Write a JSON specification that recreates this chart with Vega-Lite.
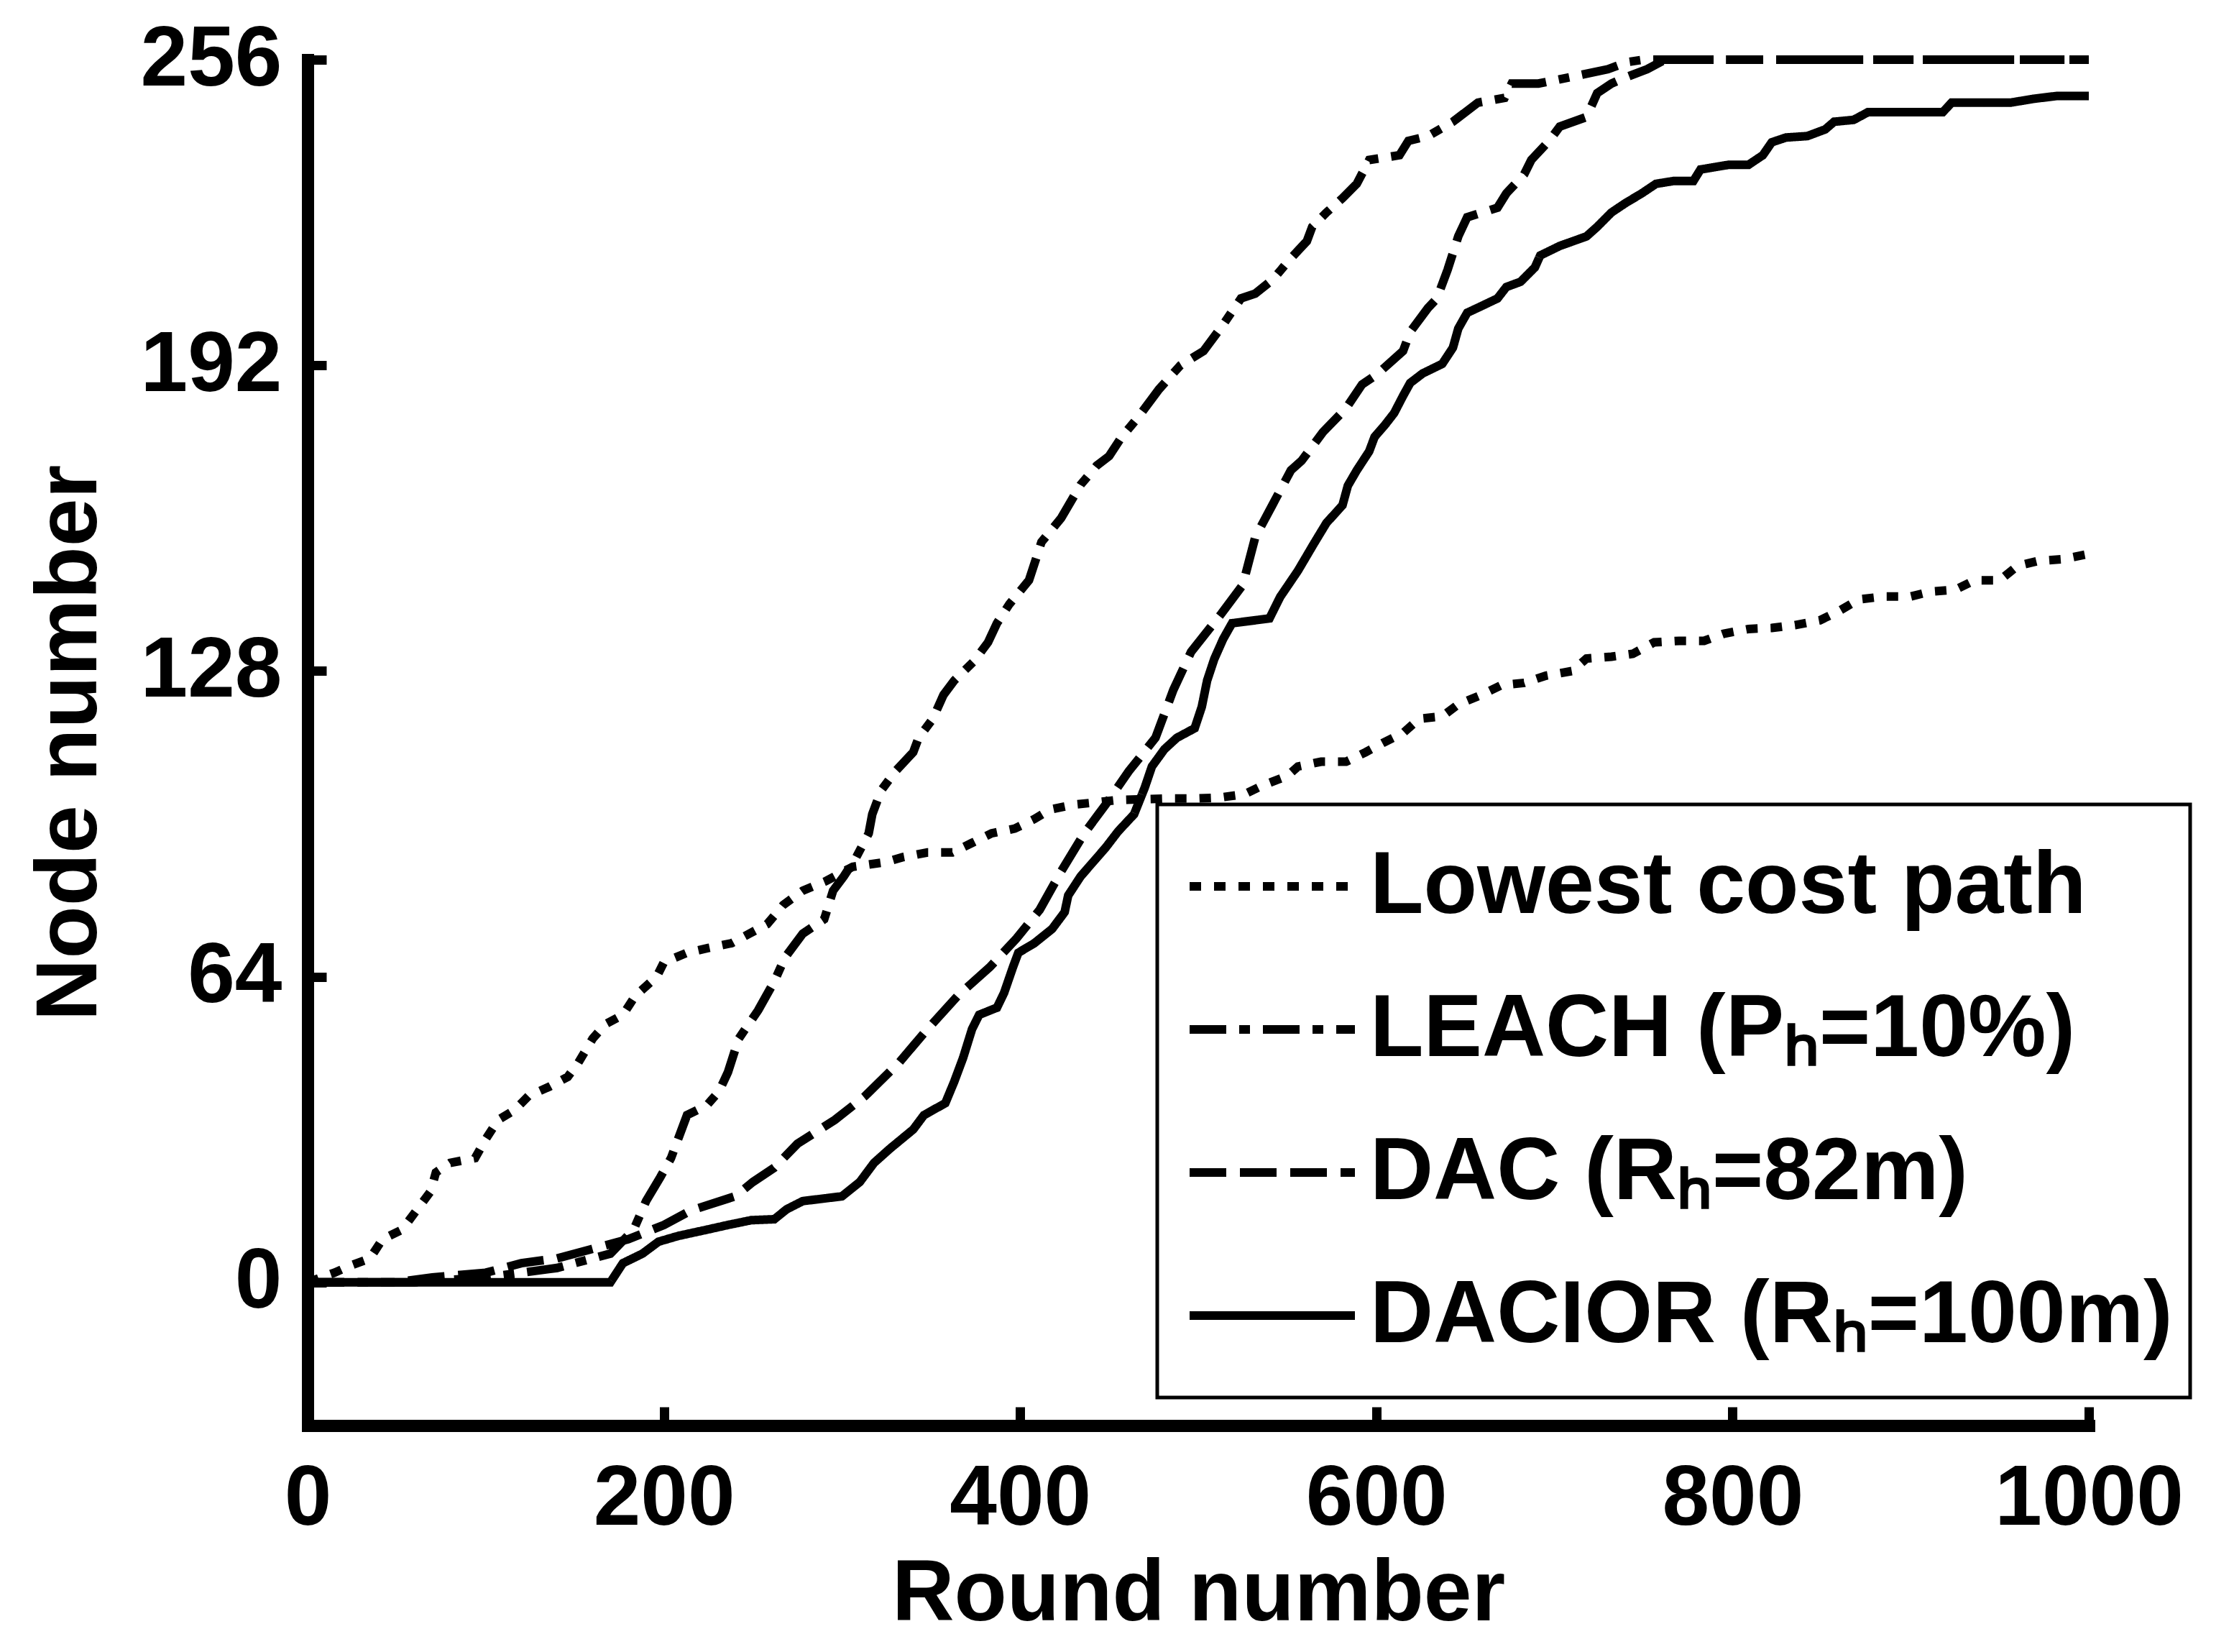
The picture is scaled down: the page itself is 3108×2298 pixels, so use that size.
{
  "$schema": "https://vega.github.io/schema/vega-lite/v6.json",
  "width": 2478,
  "height": 1900,
  "autosize": {"type": "none"},
  "padding": {"left": 428, "top": 83, "right": 202, "bottom": 315},
  "background": "white",
  "config": {
    "view": {"stroke": null},
    "axis": {
      "grid": false,
      "domainColor": "black",
      "domainWidth": 17,
      "domainCap": "square",
      "tickColor": "black",
      "tickWidth": 13,
      "tickSize": -26,
      "labelFont": "Liberation Sans",
      "labelFontSize": 118,
      "labelFontWeight": "bold",
      "labelColor": "black",
      "labelOverlap": false,
      "labelLimit": 2000,
      "titleFont": "Liberation Sans",
      "titleFontSize": 120,
      "titleFontWeight": "bold",
      "titleColor": "black"
    }
  },
  "data": {
    "values": [
      {"series":"LCP","round":0,"nodes":0},{"series":"LCP","round":15,"nodes":2},{"series":"LCP","round":24,"nodes":3.5},{"series":"LCP","round":35,"nodes":5},{"series":"LCP","round":42,"nodes":9},{"series":"LCP","round":53,"nodes":11},{"series":"LCP","round":61,"nodes":15},{"series":"LCP","round":69,"nodes":19},{"series":"LCP","round":72,"nodes":23},{"series":"LCP","round":80,"nodes":25},{"series":"LCP","round":94,"nodes":26},{"series":"LCP","round":100,"nodes":30},{"series":"LCP","round":107,"nodes":34},{"series":"LCP","round":116,"nodes":36},{"series":"LCP","round":124,"nodes":39},{"series":"LCP","round":136,"nodes":41},{"series":"LCP","round":146,"nodes":43},{"series":"LCP","round":152,"nodes":46},{"series":"LCP","round":160,"nodes":51},{"series":"LCP","round":167,"nodes":54},{"series":"LCP","round":177,"nodes":56},{"series":"LCP","round":184,"nodes":60},{"series":"LCP","round":196,"nodes":64},{"series":"LCP","round":200,"nodes":67},{"series":"LCP","round":213,"nodes":69},{"series":"LCP","round":225,"nodes":70},{"series":"LCP","round":238,"nodes":71},{"series":"LCP","round":248,"nodes":73},{"series":"LCP","round":258,"nodes":75},{"series":"LCP","round":267,"nodes":79},{"series":"LCP","round":278,"nodes":82},{"series":"LCP","round":291,"nodes":84},{"series":"LCP","round":306,"nodes":87},{"series":"LCP","round":325,"nodes":88},{"series":"LCP","round":334,"nodes":89},{"series":"LCP","round":348,"nodes":90},{"series":"LCP","round":362,"nodes":90},{"series":"LCP","round":373,"nodes":92},{"series":"LCP","round":384,"nodes":94},{"series":"LCP","round":397,"nodes":95},{"series":"LCP","round":408,"nodes":97},{"series":"LCP","round":417,"nodes":99},{"series":"LCP","round":430,"nodes":100},{"series":"LCP","round":443,"nodes":100.5},{"series":"LCP","round":455,"nodes":101},{"series":"LCP","round":484,"nodes":101.3},{"series":"LCP","round":499,"nodes":101.3},{"series":"LCP","round":512,"nodes":101.5},{"series":"LCP","round":526,"nodes":102.2},{"series":"LCP","round":536,"nodes":104},{"series":"LCP","round":550,"nodes":106},{"series":"LCP","round":556,"nodes":108},{"series":"LCP","round":569,"nodes":109},{"series":"LCP","round":583,"nodes":109},{"series":"LCP","round":594,"nodes":111},{"series":"LCP","round":604,"nodes":113},{"series":"LCP","round":615,"nodes":115},{"series":"LCP","round":624,"nodes":118},{"series":"LCP","round":637,"nodes":118.5},{"series":"LCP","round":646,"nodes":121},{"series":"LCP","round":659,"nodes":123},{"series":"LCP","round":670,"nodes":125},{"series":"LCP","round":683,"nodes":125.5},{"series":"LCP","round":695,"nodes":127},{"series":"LCP","round":710,"nodes":128},{"series":"LCP","round":718,"nodes":130.6},{"series":"LCP","round":732,"nodes":131},{"series":"LCP","round":744,"nodes":131.6},{"series":"LCP","round":756,"nodes":134},{"series":"LCP","round":770,"nodes":134.3},{"series":"LCP","round":784,"nodes":134.3},{"series":"LCP","round":795,"nodes":135.8},{"series":"LCP","round":809,"nodes":136.8},{"series":"LCP","round":822,"nodes":137},{"series":"LCP","round":835,"nodes":137.6},{"series":"LCP","round":849,"nodes":138.6},{"series":"LCP","round":860,"nodes":140.6},{"series":"LCP","round":871,"nodes":143},{"series":"LCP","round":885,"nodes":143.6},{"series":"LCP","round":900,"nodes":143.6},{"series":"LCP","round":911,"nodes":144.6},{"series":"LCP","round":925,"nodes":145},{"series":"LCP","round":936,"nodes":147},{"series":"LCP","round":950,"nodes":147},{"series":"LCP","round":960,"nodes":150},{"series":"LCP","round":971,"nodes":151},{"series":"LCP","round":985,"nodes":151.4},{"series":"LCP","round":1000,"nodes":152.5},

      {"series":"LEACH","round":0,"nodes":0},{"series":"LEACH","round":60,"nodes":0},{"series":"LEACH","round":100,"nodes":1},{"series":"LEACH","round":140,"nodes":3},{"series":"LEACH","round":170,"nodes":6},{"series":"LEACH","round":183,"nodes":11},{"series":"LEACH","round":190,"nodes":17},{"series":"LEACH","round":198,"nodes":22},{"series":"LEACH","round":204,"nodes":26},{"series":"LEACH","round":208,"nodes":30},{"series":"LEACH","round":213,"nodes":35},{"series":"LEACH","round":224,"nodes":37},{"series":"LEACH","round":231,"nodes":40},{"series":"LEACH","round":236,"nodes":44},{"series":"LEACH","round":242,"nodes":51},{"series":"LEACH","round":253,"nodes":57},{"series":"LEACH","round":262,"nodes":63},{"series":"LEACH","round":268,"nodes":68},{"series":"LEACH","round":278,"nodes":73},{"series":"LEACH","round":290,"nodes":76},{"series":"LEACH","round":295,"nodes":82},{"series":"LEACH","round":301,"nodes":85},{"series":"LEACH","round":308,"nodes":89},{"series":"LEACH","round":315,"nodes":94},{"series":"LEACH","round":317,"nodes":98},{"series":"LEACH","round":322,"nodes":103},{"series":"LEACH","round":330,"nodes":107},{"series":"LEACH","round":340,"nodes":111},{"series":"LEACH","round":343,"nodes":114},{"series":"LEACH","round":351,"nodes":118},{"series":"LEACH","round":357,"nodes":123},{"series":"LEACH","round":363,"nodes":126},{"series":"LEACH","round":374,"nodes":130},{"series":"LEACH","round":382,"nodes":134},{"series":"LEACH","round":387,"nodes":138},{"series":"LEACH","round":394,"nodes":142},{"series":"LEACH","round":405,"nodes":147},{"series":"LEACH","round":412,"nodes":155},{"series":"LEACH","round":423,"nodes":160},{"series":"LEACH","round":434,"nodes":167},{"series":"LEACH","round":443,"nodes":171},{"series":"LEACH","round":450,"nodes":173},{"series":"LEACH","round":457,"nodes":177},{"series":"LEACH","round":466,"nodes":181},{"series":"LEACH","round":478,"nodes":187},{"series":"LEACH","round":490,"nodes":192},{"series":"LEACH","round":503,"nodes":195},{"series":"LEACH","round":513,"nodes":200},{"series":"LEACH","round":524,"nodes":206},{"series":"LEACH","round":532,"nodes":207},{"series":"LEACH","round":542,"nodes":210},{"series":"LEACH","round":551,"nodes":214},{"series":"LEACH","round":561,"nodes":218},{"series":"LEACH","round":564,"nodes":221},{"series":"LEACH","round":572,"nodes":224},{"series":"LEACH","round":581,"nodes":227},{"series":"LEACH","round":589,"nodes":230},{"series":"LEACH","round":596,"nodes":235},{"series":"LEACH","round":613,"nodes":236},{"series":"LEACH","round":618,"nodes":239},{"series":"LEACH","round":629,"nodes":240},{"series":"LEACH","round":643,"nodes":243},{"series":"LEACH","round":657,"nodes":247},{"series":"LEACH","round":672,"nodes":248},{"series":"LEACH","round":676,"nodes":251},{"series":"LEACH","round":691,"nodes":251},{"series":"LEACH","round":711,"nodes":252.5},{"series":"LEACH","round":730,"nodes":254},{"series":"LEACH","round":741,"nodes":255.5},{"series":"LEACH","round":750,"nodes":256},{"series":"LEACH","round":1000,"nodes":256},

      {"series":"DAC","round":0,"nodes":0},{"series":"DAC","round":50,"nodes":0},{"series":"DAC","round":70,"nodes":1},{"series":"DAC","round":100,"nodes":2},{"series":"DAC","round":120,"nodes":4},{"series":"DAC","round":140,"nodes":5},{"series":"DAC","round":160,"nodes":7},{"series":"DAC","round":180,"nodes":9},{"series":"DAC","round":200,"nodes":12},{"series":"DAC","round":215,"nodes":15},{"series":"DAC","round":240,"nodes":18},{"series":"DAC","round":250,"nodes":21},{"series":"DAC","round":262,"nodes":24},{"series":"DAC","round":275,"nodes":29},{"series":"DAC","round":296,"nodes":34},{"series":"DAC","round":313,"nodes":39},{"series":"DAC","round":332,"nodes":46},{"series":"DAC","round":348,"nodes":53},{"series":"DAC","round":365,"nodes":60},{"series":"DAC","round":383,"nodes":66},{"series":"DAC","round":398,"nodes":72},{"series":"DAC","round":411,"nodes":78},{"series":"DAC","round":423,"nodes":86},{"series":"DAC","round":436,"nodes":94},{"series":"DAC","round":448,"nodes":100},{"series":"DAC","round":461,"nodes":107},{"series":"DAC","round":476,"nodes":114},{"series":"DAC","round":486,"nodes":124},{"series":"DAC","round":496,"nodes":132},{"series":"DAC","round":513,"nodes":140},{"series":"DAC","round":525,"nodes":146},{"series":"DAC","round":532,"nodes":156},{"series":"DAC","round":542,"nodes":163},{"series":"DAC","round":552,"nodes":170},{"series":"DAC","round":558,"nodes":172},{"series":"DAC","round":570,"nodes":178},{"series":"DAC","round":583,"nodes":183},{"series":"DAC","round":592,"nodes":188},{"series":"DAC","round":600,"nodes":190},{"series":"DAC","round":615,"nodes":195},{"series":"DAC","round":619,"nodes":199},{"series":"DAC","round":629,"nodes":204},{"series":"DAC","round":634,"nodes":206},{"series":"DAC","round":640,"nodes":212},{"series":"DAC","round":646,"nodes":219},{"series":"DAC","round":651,"nodes":223},{"series":"DAC","round":668,"nodes":225},{"series":"DAC","round":673,"nodes":228},{"series":"DAC","round":683,"nodes":232},{"series":"DAC","round":687,"nodes":235},{"series":"DAC","round":697,"nodes":239},{"series":"DAC","round":703,"nodes":242},{"series":"DAC","round":718,"nodes":244},{"series":"DAC","round":724,"nodes":249},{"series":"DAC","round":732,"nodes":251},{"series":"DAC","round":738,"nodes":252},{"series":"DAC","round":752,"nodes":254},{"series":"DAC","round":762,"nodes":256},{"series":"DAC","round":1000,"nodes":256},

      {"series":"DACIOR","round":0,"nodes":0},{"series":"DACIOR","round":170,"nodes":0},{"series":"DACIOR","round":177,"nodes":4},{"series":"DACIOR","round":188,"nodes":6},{"series":"DACIOR","round":197,"nodes":8.5},{"series":"DACIOR","round":208,"nodes":9.7},{"series":"DACIOR","round":224,"nodes":11},{"series":"DACIOR","round":236,"nodes":12},{"series":"DACIOR","round":249,"nodes":13},{"series":"DACIOR","round":262,"nodes":13.2},{"series":"DACIOR","round":269,"nodes":15.3},{"series":"DACIOR","round":278,"nodes":17},{"series":"DACIOR","round":300,"nodes":18},{"series":"DACIOR","round":310,"nodes":21},{"series":"DACIOR","round":318,"nodes":25},{"series":"DACIOR","round":327,"nodes":28},{"series":"DACIOR","round":340,"nodes":32},{"series":"DACIOR","round":346,"nodes":35},{"series":"DACIOR","round":358,"nodes":37.5},{"series":"DACIOR","round":363,"nodes":42},{"series":"DACIOR","round":368,"nodes":47},{"series":"DACIOR","round":373,"nodes":53},{"series":"DACIOR","round":377,"nodes":56},{"series":"DACIOR","round":387,"nodes":57.5},{"series":"DACIOR","round":391,"nodes":60.6},{"series":"DACIOR","round":396,"nodes":66},{"series":"DACIOR","round":399,"nodes":69},{"series":"DACIOR","round":408,"nodes":71},{"series":"DACIOR","round":418,"nodes":74},{"series":"DACIOR","round":425,"nodes":77.5},{"series":"DACIOR","round":427,"nodes":81},{"series":"DACIOR","round":434,"nodes":85},{"series":"DACIOR","round":441,"nodes":88},{"series":"DACIOR","round":448,"nodes":91},{"series":"DACIOR","round":455,"nodes":94.4},{"series":"DACIOR","round":464,"nodes":98},{"series":"DACIOR","round":470,"nodes":103.6},{"series":"DACIOR","round":474,"nodes":108},{"series":"DACIOR","round":481,"nodes":111.6},{"series":"DACIOR","round":488,"nodes":114},{"series":"DACIOR","round":498,"nodes":116},{"series":"DACIOR","round":502,"nodes":120.5},{"series":"DACIOR","round":505,"nodes":126},{"series":"DACIOR","round":509,"nodes":130.5},{"series":"DACIOR","round":514,"nodes":134.7},{"series":"DACIOR","round":519,"nodes":138},{"series":"DACIOR","round":540,"nodes":139},{"series":"DACIOR","round":546,"nodes":143.5},{"series":"DACIOR","round":556,"nodes":149},{"series":"DACIOR","round":565,"nodes":154.7},{"series":"DACIOR","round":572,"nodes":159},{"series":"DACIOR","round":581,"nodes":162.7},{"series":"DACIOR","round":584,"nodes":166.8},{"series":"DACIOR","round":589,"nodes":170},{"series":"DACIOR","round":596,"nodes":174},{"series":"DACIOR","round":599,"nodes":177},{"series":"DACIOR","round":605,"nodes":179.6},{"series":"DACIOR","round":610,"nodes":182},{"series":"DACIOR","round":615,"nodes":185.6},{"series":"DACIOR","round":619,"nodes":188.3},{"series":"DACIOR","round":626,"nodes":190.3},{"series":"DACIOR","round":637,"nodes":192.3},{"series":"DACIOR","round":643,"nodes":195.7},{"series":"DACIOR","round":646,"nodes":199.7},{"series":"DACIOR","round":651,"nodes":203},{"series":"DACIOR","round":659,"nodes":204.4},{"series":"DACIOR","round":668,"nodes":206},{"series":"DACIOR","round":673,"nodes":208.4},{"series":"DACIOR","round":681,"nodes":209.5},{"series":"DACIOR","round":689,"nodes":212.5},{"series":"DACIOR","round":692,"nodes":215},{"series":"DACIOR","round":703,"nodes":217},{"series":"DACIOR","round":718,"nodes":219},{"series":"DACIOR","round":724,"nodes":221},{"series":"DACIOR","round":732,"nodes":224},{"series":"DACIOR","round":740,"nodes":226},{"series":"DACIOR","round":749,"nodes":228},{"series":"DACIOR","round":757,"nodes":230},{"series":"DACIOR","round":767,"nodes":230.6},{"series":"DACIOR","round":778,"nodes":230.6},{"series":"DACIOR","round":782,"nodes":233},{"series":"DACIOR","round":798,"nodes":234},{"series":"DACIOR","round":809,"nodes":234},{"series":"DACIOR","round":817,"nodes":236},{"series":"DACIOR","round":822,"nodes":238.7},{"series":"DACIOR","round":830,"nodes":239.7},{"series":"DACIOR","round":842,"nodes":240},{"series":"DACIOR","round":852,"nodes":241.4},{"series":"DACIOR","round":857,"nodes":243},{"series":"DACIOR","round":868,"nodes":243.4},{"series":"DACIOR","round":876,"nodes":245},{"series":"DACIOR","round":896,"nodes":245},{"series":"DACIOR","round":918,"nodes":245},{"series":"DACIOR","round":923,"nodes":247},{"series":"DACIOR","round":956,"nodes":247},{"series":"DACIOR","round":969,"nodes":247.8},{"series":"DACIOR","round":982,"nodes":248.4},{"series":"DACIOR","round":1000,"nodes":248.4}
    ]
  },
  "mark": {"type": "line", "color": "black", "strokeWidth": 12, "strokeCap": "butt", "clip": false},
  "encoding": {
    "x": {
      "field": "round", "type": "quantitative",
      "scale": {"domain": [0, 1000], "nice": false, "zero": false},
      "axis": {"values": [0, 200, 400, 600, 800, 1000], "format": "d", "title": "Round number", "labelFlush": false, "labelPadding": 70, "titlePadding": 14}
    },
    "y": {
      "field": "nodes", "type": "quantitative",
      "scale": {"domain": [-30, 256], "nice": false, "zero": false},
      "axis": {"values": [0, 64, 128, 192, 256], "format": "d", "title": "Node number", "labelPadding": 62, "titlePadding": 70}
    },
    "strokeDash": {
      "field": "series", "type": "nominal",
      "scale": {"domain": ["LCP", "LEACH", "DAC", "DACIOR"], "range": [[16, 18], [51, 18, 15, 18], [51, 19], [1, 0]]},
      "legend": {
        "title": null,
        "orient": "none",
        "legendX": 1182,
        "legendY": 1036,
        "direction": "vertical",
        "fillColor": "white",
        "strokeColor": "black",
        "padding": 24,
        "clipHeight": 180,
        "symbolType": "stroke",
        "symbolSize": 52900,
        "symbolStrokeWidth": 12,
        "symbolStrokeColor": "black",
        "symbolOffset": 15,
        "labelOffset": 15,
        "labelFont": "Liberation Sans",
        "labelFontSize": 122,
        "labelFontWeight": "bold",
        "labelColor": "black",
        "labelLimit": 3000,
        "rowPadding": 19,
        "labelExpr": "datum.label == 'LCP' ? 'Lowest cost path' : datum.label == 'LEACH' ? 'LEACH (Pₕ=10%)' : datum.label == 'DAC' ? 'DAC (Rₕ=82m)' : 'DACIOR (Rₕ=100m)'",
        "encode": {"legend": {"update": {"strokeWidth": {"value": 5}}}}
      }
    }
  }
}
